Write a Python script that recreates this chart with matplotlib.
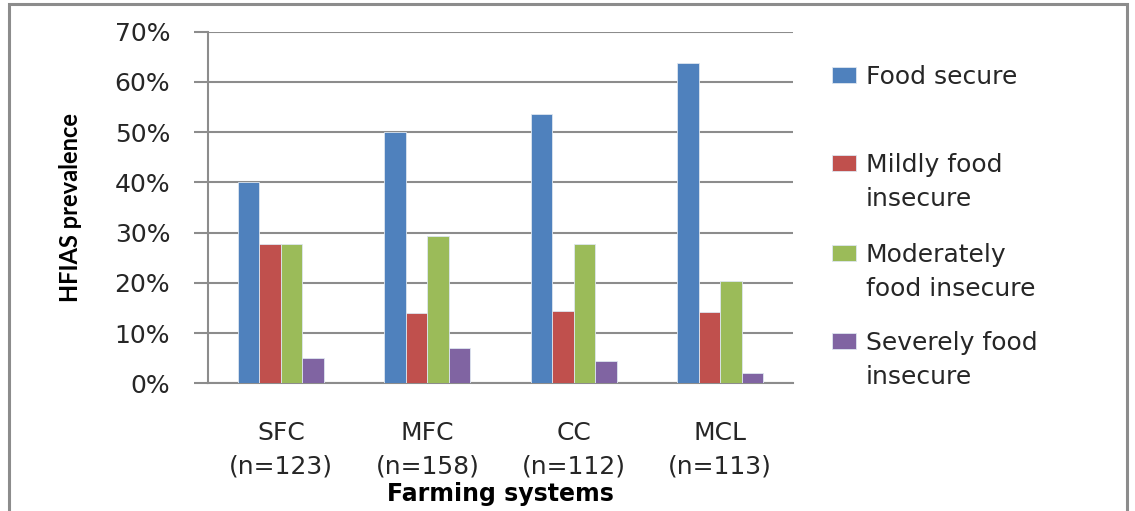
import numpy as np
import matplotlib
matplotlib.use("Agg")
import matplotlib.pyplot as plt
from matplotlib.patches import Rectangle

systems = ["SFC\n(n=123)", "MFC\n(n=158)", "CC\n(n=112)", "MCL\n(n=113)"]
series = ["Food secure", "Mildly food\ninsecure", "Moderately\nfood insecure", "Severely food\ninsecure"]
food_secure = [40.0, 50.0, 53.6, 63.7]
mildly = [27.7, 13.9, 14.4, 14.2]
moderately = [27.7, 29.3, 27.7, 20.4]
severely = [5.0, 7.1, 4.5, 2.0]
colors = ["#4F81BD", "#C0504D", "#9BBB59", "#8064A2"]

plt.rcParams['font.family'] = ['DejaVu Sans']
txt = "#262626"

fig = plt.figure(figsize=(11.35, 5.11), dpi=100)
ax = fig.add_axes([0.183, 0.250, 0.516, 0.688])

# outer frame around the whole chart
fig.patches.append(Rectangle((0.008, -0.05), 0.985, 1.042, transform=fig.transFigure,
                             fill=False, edgecolor="#8c8c8c", linewidth=2.2))

x = np.arange(len(systems))
w = 0.147
data = [food_secure, mildly, moderately, severely]
for i, (vals, c) in enumerate(zip(data, colors)):
    ax.bar(x + (i - 1.5) * w, vals, width=w, color=c,
           edgecolor="#dde6f0", linewidth=0.6, zorder=3)

ax.set_xlim(-0.5, 3.5)
ax.set_ylim(0, 70)
ax.set_yticks(range(0, 71, 10))
ax.set_yticklabels([f"{v}%" for v in range(0, 71, 10)], fontsize=18, color=txt)
ax.set_xticks(x)
ax.set_xticklabels(systems, fontsize=18, color=txt, linespacing=1.5)
ax.tick_params(axis="x", length=0, pad=27)
ax.tick_params(axis="y", length=10, width=1.5, color="#8c8c8c", pad=17)
ax.grid(axis="y", color="#8c8c8c", linewidth=1.5, zorder=0)
for s in ["top", "right"]:
    ax.spines[s].set_visible(False)
for s in ["left", "bottom"]:
    ax.spines[s].set_color("#8c8c8c")
    ax.spines[s].set_linewidth(1.5)

ax.set_ylabel("HFIAS prevalence", fontsize=17, fontweight="bold", color="black",
              family=["Liberation Sans Narrow", "Lato", "DejaVu Sans"])
ax.yaxis.set_label_coords(-0.215, 0.5)
ax.set_xlabel("Farming systems", fontsize=17, fontweight="bold", color="black")
ax.xaxis.set_label_coords(0.5, -0.28)

# legend entries on the right, marker level with the first text line
W, H = 1135, 511
entry_y = [75, 163, 253, 341]
line_gap = 34
for lab, c, yc in zip(series, colors, entry_y):
    fig.patches.append(Rectangle((832 / W, 1 - (yc + 8) / H), 24 / W, 16 / H,
                                 transform=fig.transFigure, facecolor=c,
                                 edgecolor="#dde6f0", linewidth=0.6))
    # baseline anchors the last line of a wrapped label
    base = yc + 8.5 + line_gap * lab.count("\n")
    fig.text(866 / W, 1 - base / H, lab, fontsize=18, color=txt,
             va="baseline", ha="left", linespacing=1.5)

fig.savefig("out.png", dpi=100)
